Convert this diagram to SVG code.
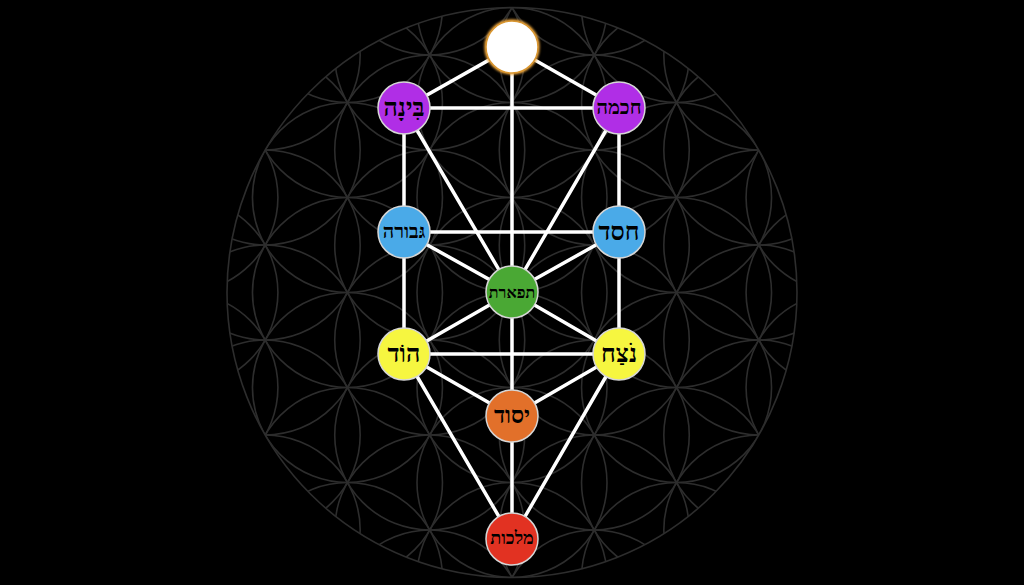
<svg xmlns="http://www.w3.org/2000/svg" width="1024" height="585" viewBox="0 0 1024 585">
<defs>
<clipPath id="flowerClip"><circle cx="512" cy="292.5" r="285"/></clipPath>
<filter id="glow" x="-50%" y="-50%" width="200%" height="200%">
<feGaussianBlur stdDeviation="1"/>
</filter>
<style>
.fl circle{fill:none;stroke:#2d2d2d;stroke-width:1.6}
.edge{stroke:#ffffff;stroke-width:3.5;stroke-linecap:round}
.node{stroke:#d6d6d6;stroke-width:1.5}
.lbl{font-family:"Liberation Serif","DejaVu Serif",serif;font-weight:bold;fill:#000;text-anchor:middle;dominant-baseline:central}
</style>
</defs>
<rect width="1024" height="585" fill="#000"/>
<g id="flower" class="fl">
<g clip-path="url(#flowerClip)">
<circle cx="512" cy="7.5" r="95"/><circle cx="512" cy="102.5" r="95"/><circle cx="512" cy="197.5" r="95"/><circle cx="512" cy="292.5" r="95"/><circle cx="512" cy="387.5" r="95"/><circle cx="512" cy="482.5" r="95"/><circle cx="512" cy="577.5" r="95"/>
<circle cx="429.728" cy="-40" r="95"/><circle cx="429.728" cy="55" r="95"/><circle cx="429.728" cy="150" r="95"/><circle cx="429.728" cy="245" r="95"/><circle cx="429.728" cy="340" r="95"/><circle cx="429.728" cy="435" r="95"/><circle cx="429.728" cy="530" r="95"/><circle cx="429.728" cy="625" r="95"/>
<circle cx="594.272" cy="-40" r="95"/><circle cx="594.272" cy="55" r="95"/><circle cx="594.272" cy="150" r="95"/><circle cx="594.272" cy="245" r="95"/><circle cx="594.272" cy="340" r="95"/><circle cx="594.272" cy="435" r="95"/><circle cx="594.272" cy="530" r="95"/><circle cx="594.272" cy="625" r="95"/>
<circle cx="347.456" cy="7.5" r="95"/><circle cx="347.456" cy="102.5" r="95"/><circle cx="347.456" cy="197.5" r="95"/><circle cx="347.456" cy="292.5" r="95"/><circle cx="347.456" cy="387.5" r="95"/><circle cx="347.456" cy="482.5" r="95"/><circle cx="347.456" cy="577.5" r="95"/>
<circle cx="676.544" cy="7.5" r="95"/><circle cx="676.544" cy="102.5" r="95"/><circle cx="676.544" cy="197.5" r="95"/><circle cx="676.544" cy="292.5" r="95"/><circle cx="676.544" cy="387.5" r="95"/><circle cx="676.544" cy="482.5" r="95"/><circle cx="676.544" cy="577.5" r="95"/>
<circle cx="265.184" cy="55" r="95"/><circle cx="265.184" cy="150" r="95"/><circle cx="265.184" cy="245" r="95"/><circle cx="265.184" cy="340" r="95"/><circle cx="265.184" cy="435" r="95"/><circle cx="265.184" cy="530" r="95"/>
<circle cx="758.816" cy="55" r="95"/><circle cx="758.816" cy="150" r="95"/><circle cx="758.816" cy="245" r="95"/><circle cx="758.816" cy="340" r="95"/><circle cx="758.816" cy="435" r="95"/><circle cx="758.816" cy="530" r="95"/>
<circle cx="182.912" cy="197.5" r="95"/><circle cx="182.912" cy="292.5" r="95"/><circle cx="182.912" cy="387.5" r="95"/>
<circle cx="841.088" cy="197.5" r="95"/><circle cx="841.088" cy="292.5" r="95"/><circle cx="841.088" cy="387.5" r="95"/>
</g>
<circle cx="512" cy="292.5" r="285"/>
</g>
<g id="connectors" class="edge">
<line x1="512" y1="47" x2="404" y2="108"/>
<line x1="512" y1="47" x2="619" y2="108"/>
<line x1="512" y1="47" x2="512" y2="292"/>
<line x1="404" y1="108" x2="619" y2="108"/>
<line x1="404" y1="108" x2="512" y2="292"/>
<line x1="619" y1="108" x2="512" y2="292"/>
<line x1="404" y1="108" x2="404" y2="232"/>
<line x1="619" y1="108" x2="619" y2="232"/>
<line x1="404" y1="232" x2="619" y2="232"/>
<line x1="404" y1="232" x2="512" y2="292"/>
<line x1="619" y1="232" x2="512" y2="292"/>
<line x1="404" y1="232" x2="404" y2="354"/>
<line x1="619" y1="232" x2="619" y2="354"/>
<line x1="512" y1="292" x2="404" y2="354"/>
<line x1="512" y1="292" x2="619" y2="354"/>
<line x1="404" y1="354" x2="619" y2="354"/>
<line x1="512" y1="292" x2="512" y2="416"/>
<line x1="404" y1="354" x2="512" y2="416"/>
<line x1="619" y1="354" x2="512" y2="416"/>
<line x1="404" y1="354" x2="512" y2="539"/>
<line x1="619" y1="354" x2="512" y2="539"/>
<line x1="512" y1="416" x2="512" y2="539"/>
</g>
<g id="keter">
<circle cx="512" cy="47" r="26.5" fill="none" stroke="#e9a440" stroke-width="2.5" filter="url(#glow)"/>
<circle cx="512" cy="47" r="26" fill="#ffffff" stroke="#d99630" stroke-width="1.5"/>
</g>
<g id="binah">
<circle class="node" cx="404" cy="108" r="26" fill="#b02ee6"/>
<text class="lbl" x="404" y="107" font-size="25">בִּינָה</text>
</g>
<g id="chokhmah">
<circle class="node" cx="619" cy="108" r="26" fill="#b02ee6"/>
<text class="lbl" x="619" y="107" font-size="20">חכמה</text>
</g>
<g id="gevurah">
<circle class="node" cx="404" cy="232" r="26" fill="#4aaae8"/>
<text class="lbl" x="404" y="231" font-size="20">גּבורה</text>
</g>
<g id="chesed">
<circle class="node" cx="619" cy="232" r="26" fill="#4aaae8"/>
<text class="lbl" x="619" y="231" font-size="25">חסד</text>
</g>
<g id="tiferet">
<circle class="node" cx="512" cy="292" r="26" fill="#4aa834"/>
<text class="lbl" x="512" y="292" font-size="16">תפארת</text>
</g>
<g id="hod">
<circle class="node" cx="404" cy="354" r="26" fill="#f6f640"/>
<text class="lbl" x="404" y="353" font-size="25">הוֹד</text>
</g>
<g id="netzach">
<circle class="node" cx="619" cy="354" r="26" fill="#f6f640"/>
<text class="lbl" x="619" y="353" font-size="25">נֹצַח</text>
</g>
<g id="yesod">
<circle class="node" cx="512" cy="416" r="26" fill="#e2702a"/>
<text class="lbl" x="512" y="415" font-size="23">יסוד</text>
</g>
<g id="malkhut">
<circle class="node" cx="512" cy="539" r="26" fill="#e23222"/>
<text class="lbl" x="512" y="538" font-size="18">מלכות</text>
</g>
</svg>
